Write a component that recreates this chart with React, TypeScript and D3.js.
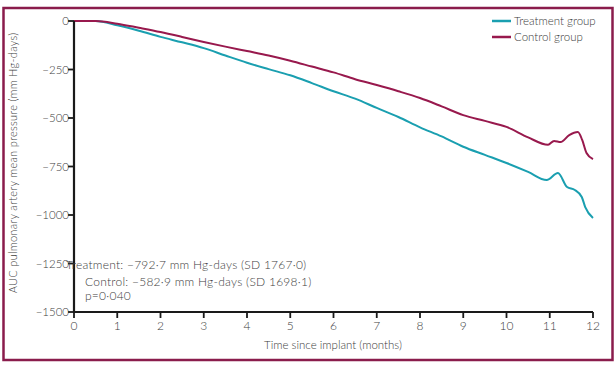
import React from "react";
import * as d3 from "d3";

const months = [0, 0.5, 1, 1.5, 2, 2.5, 3, 3.5, 4, 4.5, 5, 5.5, 6, 6.5, 7, 7.5, 8, 8.5, 9, 9.5, 10, 10.5];
const treatmentMain = [0, 0, -22, -50, -82, -110, -140, -178, -215, -248, -280, -320, -362, -400, -448, -495, -548, -595, -648, -690, -732, -778];
const treatmentTailX = [10.93, 11.19, 11.4, 11.58, 11.74, 11.82, 12];
const treatmentTailY = [-820, -784, -856, -871, -907, -959, -1015];
const controlMain = [0, 0, -14, -35, -57, -82, -108, -132, -155, -178, -205, -235, -265, -300, -330, -362, -397, -440, -485, -515, -546, -600];
const controlTailX = [10.96, 11.1, 11.25, 11.45, 11.65, 11.75, 11.85, 12];
const controlTailY = [-638, -618, -624, -588, -572, -613, -680, -712];

const xTicks = [0, 1, 2, 3, 4, 5, 6, 7, 8, 9, 10, 11, 12];
const yTicks = [0, -250, -500, -750, -1000, -1250, -1500];
const seriesNames = ["Treatment group", "Control group"];
const annotations = [
  "Treatment: \u2212792\u00b77 mm  Hg-days (SD 1767\u00b70)",
  "Control: \u2212582\u00b79 mm  Hg-days (SD 1698\u00b71)",
  "p=0\u00b7040",
];

const TEAL = "#1a9fb0";
const MAROON = "#98194d";
const FONT = "Lato, 'Open Sans', sans-serif";
const TXT = "#404040";

export default function App() {
  const x = d3.scaleLinear().domain([0, 12]).range([74, 593]);
  const y = d3.scaleLinear().domain([0, -1500]).range([21, 312]);

  const tData = months.map((m, i) => [m, treatmentMain[i]] as [number, number])
    .concat(treatmentTailX.map((m, i) => [m, treatmentTailY[i]] as [number, number]));
  const cData = months.map((m, i) => [m, controlMain[i]] as [number, number])
    .concat(controlTailX.map((m, i) => [m, controlTailY[i]] as [number, number]));

  const line = d3.line<[number, number]>()
    .x((d) => x(d[0]))
    .y((d) => y(d[1]))
    .curve(d3.curveMonotoneX);

  return (
    <svg width={616} height={367} style={{ position: "absolute", left: 0, top: 0 }}>
      <rect x={0} y={0} width={616} height={367} fill="#ffffff" />
      <rect x={3.5} y={8} width={609} height={352} fill="none" stroke="#8a1c4c" strokeWidth={2.5} />

      {/* lines */}
      <path d={line(tData) || ""} fill="none" stroke={TEAL} strokeWidth={2} strokeLinejoin="round" />
      <path d={line(cData) || ""} fill="none" stroke={MAROON} strokeWidth={2} strokeLinejoin="round" />

      {/* y axis */}
      <line x1={x(0)} x2={x(0)} y1={y(0)} y2={y(-1500)} stroke="#1a1a1a" strokeWidth={2.2} />
      {yTicks.map((t) => (
        <g key={t}>
          <line x1={x(0) - 6} x2={x(0)} y1={y(t)} y2={y(t)} stroke="#1a1a1a" strokeWidth={1.8} />
          <text x={x(0) - 5} y={y(t)} dy="0.35em" textAnchor="end" fontFamily={FONT} fontWeight={300} fontSize={11.5} fill={TXT}>
            {t === 0 ? "0" : "\u2212" + Math.abs(t)}
          </text>
        </g>
      ))}

      {/* x axis */}
      <line x1={x(0)} x2={x(12)} y1={y(-1500)} y2={y(-1500)} stroke="#1a1a1a" strokeWidth={2.2} />
      {xTicks.map((t) => (
        <g key={t}>
          <line x1={x(t)} x2={x(t)} y1={y(-1500)} y2={y(-1500) + 6} stroke="#1a1a1a" strokeWidth={1.8} />
          <text x={x(t)} y={y(-1500) + 18} textAnchor="middle" fontFamily={FONT} fontWeight={300} fontSize={12} fill={TXT}>
            {t}
          </text>
        </g>
      ))}
      <text x={333} y={349} textAnchor="middle" fontFamily={FONT} fontWeight={300} fontSize={11.5} fill={TXT}>
        Time since implant (months)
      </text>
      <text
        transform="translate(17,163) rotate(-90)"
        textAnchor="middle"
        fontFamily={FONT}
        fontWeight={300}
        fontSize={11}
        fill={TXT}
        letterSpacing={0.3}
      >
        AUC pulmonary artery mean pressure (mm Hg-days)
      </text>

      {/* annotations */}
      <text x={66} y={269} fontFamily={FONT} fontWeight={300} fontSize={12} fill={TXT} letterSpacing={0.25}>{annotations[0]}</text>
      <text x={85} y={286} fontFamily={FONT} fontWeight={300} fontSize={12} fill={TXT} letterSpacing={0.25}>{annotations[1]}</text>
      <text x={85} y={300} fontFamily={FONT} fontWeight={300} fontSize={12} fill={TXT} letterSpacing={0.25}>{annotations[2]}</text>

      {/* legend */}
      {seriesNames.map((name, i) => (
        <g key={name}>
          <line x1={492} x2={511} y1={21 + i * 16} y2={21 + i * 16} stroke={i === 0 ? TEAL : MAROON} strokeWidth={2.5} />
          <text x={514} y={21 + i * 16} dy="0.35em" fontFamily={FONT} fontWeight={300} fontSize={11.5} fill={TXT}>
            {name}
          </text>
        </g>
      ))}
    </svg>
  );
}
